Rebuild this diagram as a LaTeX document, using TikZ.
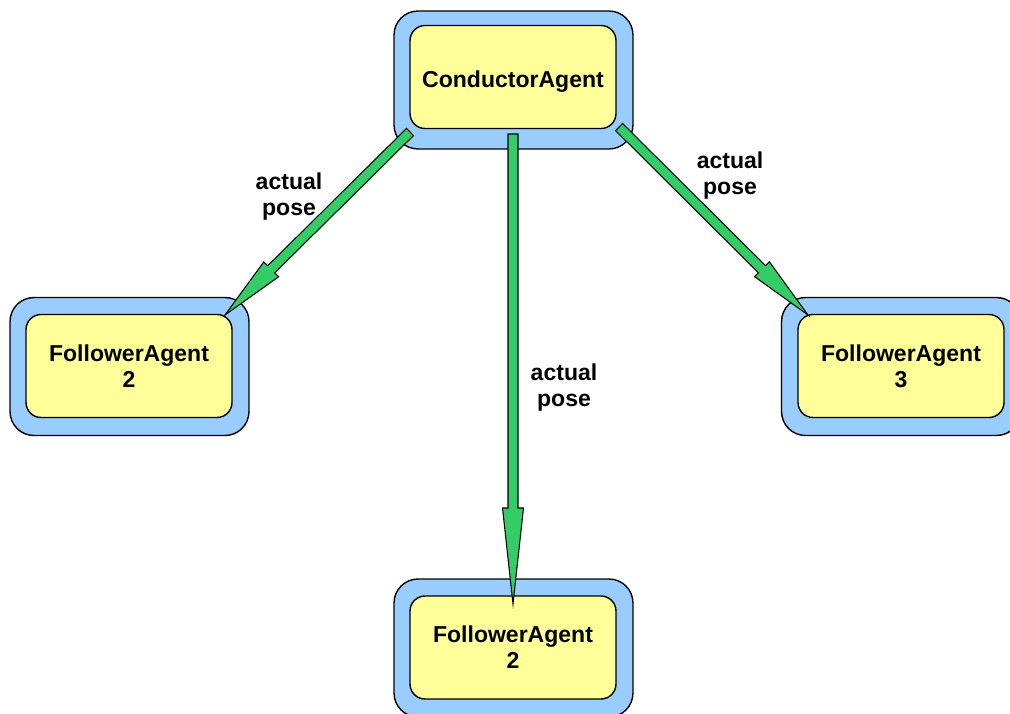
\documentclass[tikz,border=0pt]{standalone}
\usepackage{fontspec}
\setmainfont{Liberation Sans}
\usetikzlibrary{calc}

\definecolor{framefill}{HTML}{99CCFF}
\definecolor{boxfill}{HTML}{FFFF99}
\definecolor{poseGreen}{HTML}{33CC66}

\newcommand\agentfont{\fontsize{13.1pt}{14.8pt}\selectfont\bfseries}

\tikzset{
  agentframe/.style={rectangle, draw, line width=0.8pt, fill=framefill,
    rounded corners=0.48cm, minimum width=4.78cm, minimum height=2.76cm},
  agentbox/.style={rectangle, draw, line width=0.8pt, fill=boxfill,
    rounded corners=0.3cm, minimum width=4.12cm, minimum height=2.06cm,
    align=center, font=\agentfont, text depth=0pt},
  poselabel/.style={align=center, font=\agentfont},
  arrowbody/.style={fill=poseGreen, draw=black, line width=0.6pt, line join=miter}
}

% fat arrow: #1 tail, #2 tip, #3 head length
\newcommand\posearrow[3]{%
  \coordinate (hb) at ($(#2)!#3!(#1)$);
  \filldraw[arrowbody] ($(#1)!0.1cm!90:(#2)$) -- ($(hb)!0.1cm!90:(#2)$)
    -- ($(hb)!0.21cm!90:(#2)$) -- (#2) -- ($(hb)!0.21cm!-90:(#2)$)
    -- ($(hb)!0.1cm!-90:(#2)$) -- ($(#1)!0.1cm!-90:(#2)$) -- cycle;
}

\begin{document}
\begin{tikzpicture}[x=0.02cm, y=-0.02cm]
    \useasboundingbox (0,0) rectangle (1010,713);

    \node[agentframe] (cond-frame) at (513.5,80) {};
    \node[agentbox, text height=2.3ex] (cond) at (513,77) {ConductorAgent};

    \node[agentframe] (f2-frame) at (129.5,366.5) {};
    \node[agentbox] (f2) at (129,366) {FollowerAgent\\2};

    \node[agentframe] (f3-frame) at (901,366.5) {};
    \node[agentbox] (f3) at (901,366) {FollowerAgent\\3};

    \node[agentframe] (f2b-frame) at (513.5,648) {};
    \node[agentbox] (f2b) at (513,647.5) {FollowerAgent\\2};

    % arrow ends
    \coordinate (tail-l) at (410,132);
    \coordinate (tip-l) at (225,315);
    \coordinate (tail-m) at (513,134);
    \coordinate (tip-m) at (513,604);
    \coordinate (tail-r) at (619,127);
    \coordinate (tip-r) at (808,315);

    \posearrow{tail-l}{tip-l}{1.3cm}
    \posearrow{tail-m}{tip-m}{1.92cm}
    \posearrow{tail-r}{tip-r}{1.3cm}

    \node[poselabel] (lbl-l) at (289,197) {actual\\pose};
    \node[poselabel] (lbl-m) at (564,388) {actual\\pose};
    \node[poselabel] (lbl-r) at (730,176) {actual\\pose};
\end{tikzpicture}
\end{document}
